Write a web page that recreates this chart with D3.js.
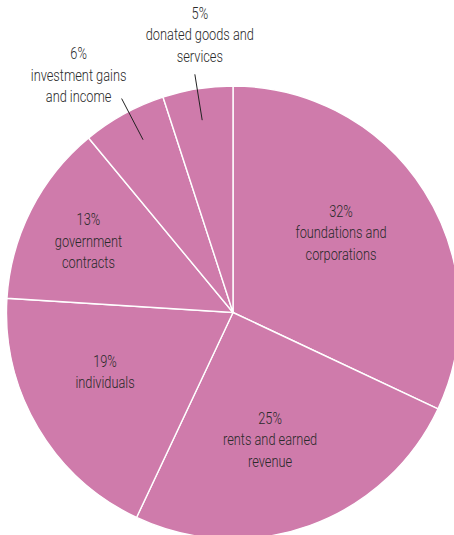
<!DOCTYPE html>
<html><head><meta charset="utf-8">
<script src="https://cdn.jsdelivr.net/npm/d3@7"></script>
<style>
html,body{margin:0;padding:0;background:#fff;}
text{font-family:Roboto,"Liberation Sans",sans-serif;font-weight:300;fill:#2a2a2a;}
</style></head>
<body>
<svg id="chart" width="454" height="535"></svg>
<script>
const categories = ["foundations and|corporations","rents and earned|revenue","individuals","government|contracts","investment gains|and income","donated goods and|services"];
const values = [32, 25, 19, 13, 6, 5];
const pctLabels = ["32%","25%","19%","13%","6%","5%"];
// label placement (radius as fraction of pie radius, angle nudge in degrees)
const labelRadius = [0.593, 0.586, 0.623, 0.712, 1.07, 1.06];
const labelAngleNudge = [-4.1, 3.6, 5.7, -0.7, 1.2, -0.2];
const outside = [false,false,false,false,true,true];

const svg = d3.select("#chart");
const cx = 233, cy = 312.5, R = 226.5;
const g = svg.append("g").attr("transform",`translate(${cx},${cy})`);
const pie = d3.pie().sort(null).value(d=>d)(values);
const arc = d3.arc().innerRadius(0).outerRadius(R);
g.selectAll("path").data(pie).enter().append("path")
  .attr("d",arc).attr("fill","#cf7bab").attr("stroke","#fff").attr("stroke-width",1.4);

const lh = 21.5, sx = 0.775;
pie.forEach((p,i)=>{
  const mid = (p.startAngle+p.endAngle)/2 + labelAngleNudge[i]*Math.PI/180;
  const r = labelRadius[i]*R;
  let x = r*Math.sin(mid), y = -r*Math.cos(mid);
  const lines = [pctLabels[i]].concat(categories[i].split("|"));
  let ty;
  if(outside[i]){
    const a = (p.startAngle+p.endAngle)/2 + (i===4?1.3:-0.1)*Math.PI/180;
    const r0 = 0.86*R, r1 = 1.065*R;
    g.append("line")
      .attr("x1",r0*Math.sin(a)).attr("y1",-r0*Math.cos(a))
      .attr("x2",r1*Math.sin(a)).attr("y2",-r1*Math.cos(a))
      .attr("stroke","#222").attr("stroke-width",1);
    const ex = r1*Math.sin(a), ey = -r1*Math.cos(a);
    if(i===4){ x = ex-43; ty = ey - 39.5; }
    else { x = ex+5; ty = ey - 55.5; }
  } else {
    ty = y - lh*(lines.length-1)/2 + 5.5;
  }
  const t = g.append("text").attr("text-anchor","middle").attr("font-size",16.5)
    .attr("transform",`translate(${x},0) scale(${sx},1)`);
  lines.forEach((l,k)=>{
    t.append("tspan").attr("x",0).attr("y",ty + k*lh).text(l);
  });
});
</script>
</body></html>
